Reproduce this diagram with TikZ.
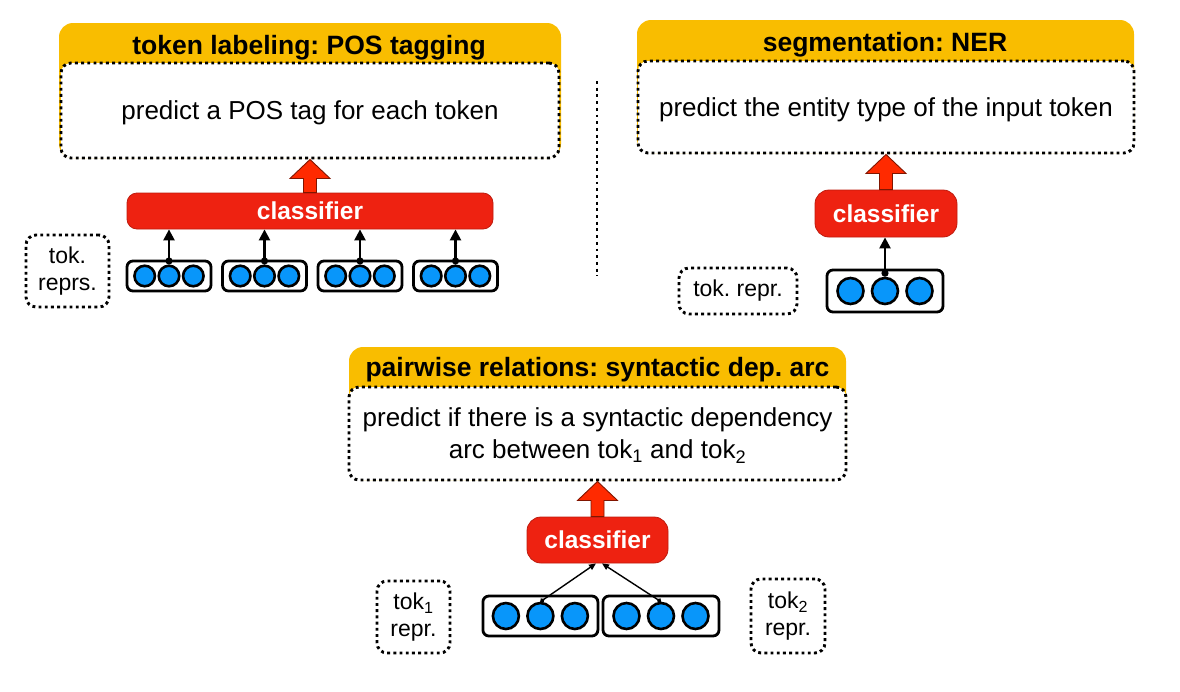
\documentclass[tikz,border=0pt]{standalone}
\usepackage{fontspec}
\setmainfont{Liberation Sans}
\usetikzlibrary{arrows.meta,positioning,calc}
\definecolor{taskyellow}{RGB}{249,189,0}
\definecolor{clsred}{RGB}{238,34,17}
\definecolor{tokblue}{RGB}{8,150,250}
\definecolor{arrowred}{RGB}{255,42,0}
\frenchspacing

\begin{document}
\begin{tikzpicture}[x=1pt, y=-1pt,
  taskbg/.style={fill=taskyellow, rounded corners=14pt, inner sep=0pt},
  taskbox/.style={fill=white, draw=black, line width=2.9pt, dash pattern=on 2.9pt off 3.3pt, rounded corners=10pt, align=center, inner sep=0pt, text depth=0pt, font=\fontsize{26}{32}\selectfont},
  headtext/.style={font=\bfseries\fontsize{26.5}{30}\selectfont, inner sep=0pt, text depth=0pt},
  clsbox/.style={fill=clsred, draw=clsred!80!black, line width=0.8pt, text=white, font=\bfseries\fontsize{24.5}{28}\selectfont, inner sep=0pt},
  reprbox/.style={draw=black, line width=2.9pt, dash pattern=on 2.9pt off 3.3pt, rounded corners=10pt, align=center, inner sep=0pt, font=\fontsize{23}{27}\selectfont},
  tokgroup/.style={draw=black, fill=white, line width=2.8pt, rounded corners=6pt, inner sep=0pt},
  tokcirc/.style={circle, draw=black, fill=tokblue, line width=2.6pt, inner sep=0pt},
  tokarrow/.style={{Circle[length=7pt]}-{Triangle[length=11pt,width=11pt]}, line width=2.4pt},
  thinarrow/.style={{Circle[length=4.5pt]}-{Triangle[length=7pt,width=6pt]}, line width=1.4pt},
  bigarrow/.style={fill=arrowred, draw=arrowred!50!black, line width=0.9pt, line join=miter},
  sepline/.style={line width=2.9pt, dash pattern=on 2.9pt off 3.8pt}]
\useasboundingbox (0,0) rectangle (1180,691);

% task panels
\node[taskbg, minimum width=502pt, minimum height=135pt] (posbg) at (310,90.5) {};
\node[taskbox, minimum width=498pt, minimum height=95pt] (posbox) at (310,110.5) {predict a POS tag for each token};
\node[headtext] (poshead) at (309,44.5) {token labeling: POS tagging};

\node[taskbg, minimum width=497pt, minimum height=133pt] (nerbg) at (885.5,86.5) {};
\node[taskbox, minimum width=496pt, minimum height=92pt] (nerbox) at (886,107) {predict the entity type of the input token};
\node[headtext] (nerhead) at (885,42) {segmentation: NER};

\node[taskbg, minimum width=497pt, minimum height=133pt] (depbg) at (597.5,413.5) {};
\node[taskbox, minimum width=497pt, minimum height=93pt] (depbox) at (597.5,433.5) {predict if there is a syntactic dependency\\arc between tok\textsubscript{1} and tok\textsubscript{2}};
\node[headtext] (dephead) at (597.5,367) {pairwise relations: syntactic dep. arc};

% classifiers
\node[clsbox, rounded corners=10pt, minimum width=366pt, minimum height=36pt] (poscls) at (310,211) {classifier};
\node[clsbox, rounded corners=14pt, minimum width=142pt, minimum height=47pt] (nercls) at (886,213.5) {classifier};
\node[clsbox, rounded corners=14pt, minimum width=141pt, minimum height=46pt] (depcls) at (597.5,540) {classifier};

\foreach \bx/\cl in {posbox/poscls, nerbox/nercls, depbox/depcls} {
  \draw[bigarrow] (\bx.south) -- ($(\bx.south)+(20,19)$) -- ($(\bx.south)+(6.5,19)$) -- ($(\cl.north)+(6.5,0)$)
    -- ($(\cl.north)+(-6.5,0)$) -- ($(\bx.south)+(-6.5,19)$) -- ($(\bx.south)+(-20,19)$) -- cycle;
}

% token representations
\node[reprbox, minimum width=83pt, minimum height=72pt] (posrepr) at (67.5,271) {tok.\\reprs.};
\node[reprbox, minimum width=118pt, minimum height=46pt] (nerrepr) at (738,291) {tok. repr.};
\node[reprbox, minimum width=73pt, minimum height=72pt] (dep1repr) at (413.5,617) {tok\textsubscript{1}\\repr.};
\node[reprbox, minimum width=74pt, minimum height=74pt] (dep2repr) at (788,616) {tok\textsubscript{2}\\repr.};

\foreach \i/\gx in {1/169,2/264.5,3/360,4/455.5} {
  \node[tokgroup, minimum width=84pt, minimum height=30pt] (postok\i) at (\gx,276) {};
  \node[tokcirc, minimum size=20.5pt] at ($(postok\i)+(-24.3,0)$) {};
  \node[tokcirc, minimum size=20.5pt] (postokm\i) at (postok\i) {};
  \node[tokcirc, minimum size=20.5pt] at ($(postok\i)+(24.3,0)$) {};
  \draw[tokarrow] (postokm\i.north) -- (postokm\i.north |- poscls.south);
}

\node[tokgroup, minimum width=116pt, minimum height=42pt] (nertok) at (885,291) {};
\foreach \d in {-34.5,34.5}
  \node[tokcirc, minimum size=26pt] at ($(nertok)+(\d,0)$) {};
\node[tokcirc, minimum size=26pt] (nertokm) at (nertok) {};
\draw[tokarrow] (nertokm.north) -- (nertokm.north |- nercls.south);

\node[tokgroup, minimum width=115pt, minimum height=40pt] (deptok1) at (540.4,616) {};
\node[tokgroup, minimum width=116pt, minimum height=40pt] (deptok2) at (661,616) {};
\foreach \g in {1,2} {
  \node[tokcirc, minimum size=26pt] at ($(deptok\g)+(-34.5,0)$) {};
  \node[tokcirc, minimum size=26pt] (deptokm\g) at (deptok\g) {};
  \node[tokcirc, minimum size=26pt] at ($(deptok\g)+(34.5,0)$) {};
}
\draw[thinarrow] (deptokm1.north) -- ($(depcls.south)+(-1.5,0)$);
\draw[thinarrow] (deptokm2.north) -- ($(depcls.south)+(4.5,0)$);

% separator
\draw[sepline] (597,81) -- (597,276);
\end{tikzpicture}
\end{document}
